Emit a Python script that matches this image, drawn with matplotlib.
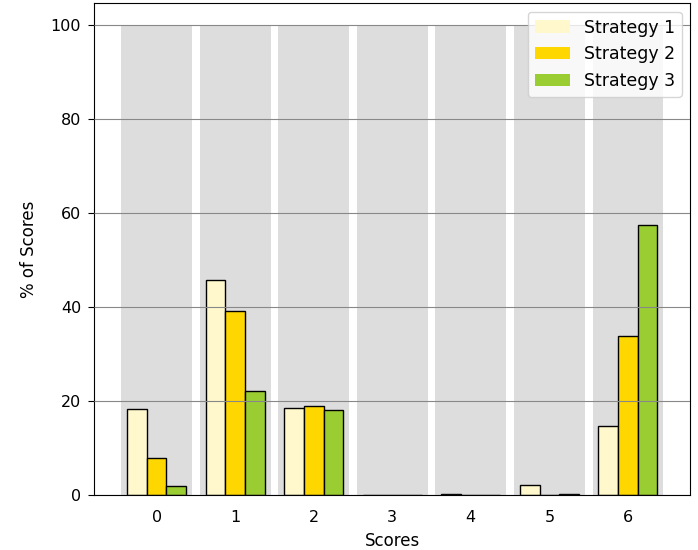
import numpy as np
import matplotlib
matplotlib.use("Agg")
import matplotlib.pyplot as plt

scores = [0, 1, 2, 3, 4, 5, 6]
strategy1 = [18.2, 45.8, 18.5, 0.0, 0.3, 2.1, 14.7]
strategy2 = [7.9, 39.2, 19.0, 0.0, 0.0, 0.0, 33.8]
strategy3 = [1.9, 22.1, 18.0, 0.0, 0.0, 0.3, 57.5]
background = [100] * len(scores)

plt.rcParams["font.size"] = 11.5

fig = plt.figure(figsize=(6.98, 5.5), dpi=100)
ax = fig.add_axes([0.135, 0.1, 0.854, 0.8945])

x = np.arange(len(scores))
w = 0.25

ax.bar(x, background, width=0.9, color="#dddddd", zorder=0)
ax.bar(x - w, strategy1, width=w, color="#fff8cc", edgecolor="black", label="Strategy 1", zorder=2)
ax.bar(x, strategy2, width=w, color="#ffd700", edgecolor="black", label="Strategy 2", zorder=2)
ax.bar(x + w, strategy3, width=w, color="#9acd32", edgecolor="black", label="Strategy 3", zorder=2)

ax.set_axisbelow(False)
ax.yaxis.grid(True, color="#888888", linewidth=0.8, zorder=1)
for line in ax.get_ygridlines():
    line.set_zorder(1)

ax.set_xticks(x)
ax.set_xticklabels([str(s) for s in scores])
ax.tick_params(axis="x", length=0, pad=10.5)
ax.tick_params(axis="y", length=4.5, pad=5)
ax.set_ylim(0, 104.7)
ax.set_xlabel("Scores", fontsize=12, labelpad=5)
ax.set_ylabel("% of Scores", fontsize=12, labelpad=9)

leg = ax.legend(loc="upper right", fontsize=12.5)
for h in leg.legend_handles:
    h.set_edgecolor("none")

fig.savefig("out.png", dpi=100)
